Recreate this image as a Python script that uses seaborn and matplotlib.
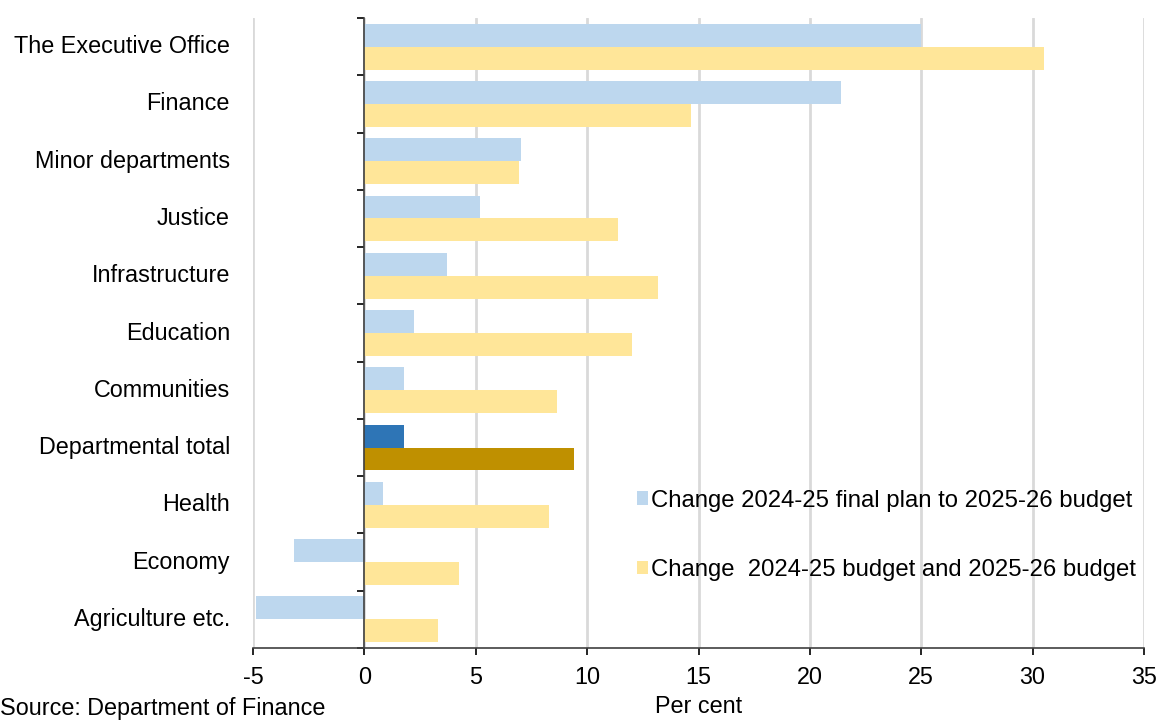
import matplotlib
matplotlib.use("Agg")
import matplotlib.pyplot as plt
import matplotlib.transforms as mtransforms
from matplotlib.patches import Patch
import pandas as pd
import seaborn as sns

# Departments, top to bottom
departments = [
    "The Executive Office", "Finance", "Minor departments", "Justice",
    "Infrastructure", "Education", "Communities", "Departmental total",
    "Health", "Economy", "Agriculture etc.",
]
# Per cent change, 2024-25 final plan to 2025-26 budget
change_final_plan = [25.0, 21.4, 7.05, 5.2, 3.7, 2.25, 1.8, 1.8, 0.85, -3.15, -4.85]
# Per cent change, 2024-25 budget to 2025-26 budget
change_budget = [30.5, 14.65, 6.95, 11.4, 13.2, 12.0, 8.65, 9.4, 8.3, 4.25, 3.3]

series_names = [
    "Change 2024-25 final plan to 2025-26 budget",
    "Change  2024-25 budget and 2025-26 budget",
]
x_ticks = [-5, 0, 5, 10, 15, 20, 25, 30, 35]

LIGHT_BLUE = "#BDD7EE"
LIGHT_GOLD = "#FFE699"
DARK_BLUE = "#2E75B6"
DARK_GOLD = "#BF9000"
GRID = "#D9D9D9"
AXIS = "#404040"
FS = 16.8

df = pd.DataFrame({
    "department": departments * 2,
    "value": change_final_plan + change_budget,
    "series": [series_names[0]] * len(departments) + [series_names[1]] * len(departments),
})

sns.set_theme(style="white")
plt.rcParams["font.family"] = ["Liberation Sans", "DejaVu Sans"]
plt.rcParams["text.color"] = "black"
plt.rcParams["axes.labelcolor"] = "black"
plt.rcParams["xtick.color"] = "black"
plt.rcParams["ytick.color"] = "black"

fig = plt.figure(figsize=(11.57, 7.2), dpi=100)
ax = fig.add_axes([253 / 1157, 1 - 648 / 720, (1144 - 253) / 1157, (648 - 18) / 720])

sns.barplot(
    data=df, y="department", x="value", hue="series", orient="h",
    order=departments, hue_order=series_names,
    palette=[LIGHT_BLUE, LIGHT_GOLD], width=0.8, saturation=1,
    legend=False, ax=ax,
)

# Highlight the departmental total
total_idx = departments.index("Departmental total")
ax.containers[0][total_idx].set_facecolor(DARK_BLUE)
ax.containers[1][total_idx].set_facecolor(DARK_GOLD)
for cont in ax.containers:
    for p in cont:
        p.set_edgecolor("none")
        p.set_linewidth(0)

ax.set_xlim(-5, 35)
ax.set_ylim(len(departments) - 0.5, -0.5)
ax.set_xticks(x_ticks)
ax.set_xticklabels([str(t) for t in x_ticks], fontsize=FS, color="black")
ax.xaxis.grid(True, color=GRID, linewidth=2)
ax.set_axisbelow(True)

# Category axis sits at zero, ticks mark the category boundaries
ax.spines["left"].set_position(("data", 0))
ax.spines["left"].set_color(AXIS)
ax.spines["left"].set_linewidth(1.2)
ax.spines["left"].set_zorder(5)
ax.spines["bottom"].set_color(AXIS)
ax.spines["bottom"].set_linewidth(1.2)
ax.spines["top"].set_visible(False)
ax.spines["right"].set_visible(False)
ax.set_yticks([i - 0.5 for i in range(len(departments) + 1)])
ax.set_yticklabels([])
ax.tick_params(axis="y", direction="out", length=5, width=1.2, color="black", left=True)
ax.tick_params(axis="x", direction="out", length=5, width=1.2, color="black",
               bottom=True, pad=8)
ax.set_ylabel("")
ax.set_xlabel("Per cent", fontsize=FS, labelpad=4, color="black")

# Department names to the left of the plot area
trans = mtransforms.blended_transform_factory(fig.transFigure, ax.transData)
for i, name in enumerate(departments):
    ax.text(230 / 1157, i, name, transform=trans, ha="right", va="center",
            fontsize=FS, color="black")

handles = [Patch(facecolor=LIGHT_BLUE, edgecolor="none"),
           Patch(facecolor=LIGHT_GOLD, edgecolor="none")]
fig.legend(handles, series_names, loc="upper left",
           bbox_to_anchor=(627 / 1157, 1 - 480 / 720), frameon=False,
           fontsize=17.2, handlelength=0.47, handleheight=0.47,
           handletextpad=0.15, labelspacing=1.98, borderaxespad=0)

fig.text(0.0, 0.0, "Source: Department of Finance",
         fontsize=FS, ha="left", va="bottom", color="black")

fig.savefig("out.png", dpi=100)
